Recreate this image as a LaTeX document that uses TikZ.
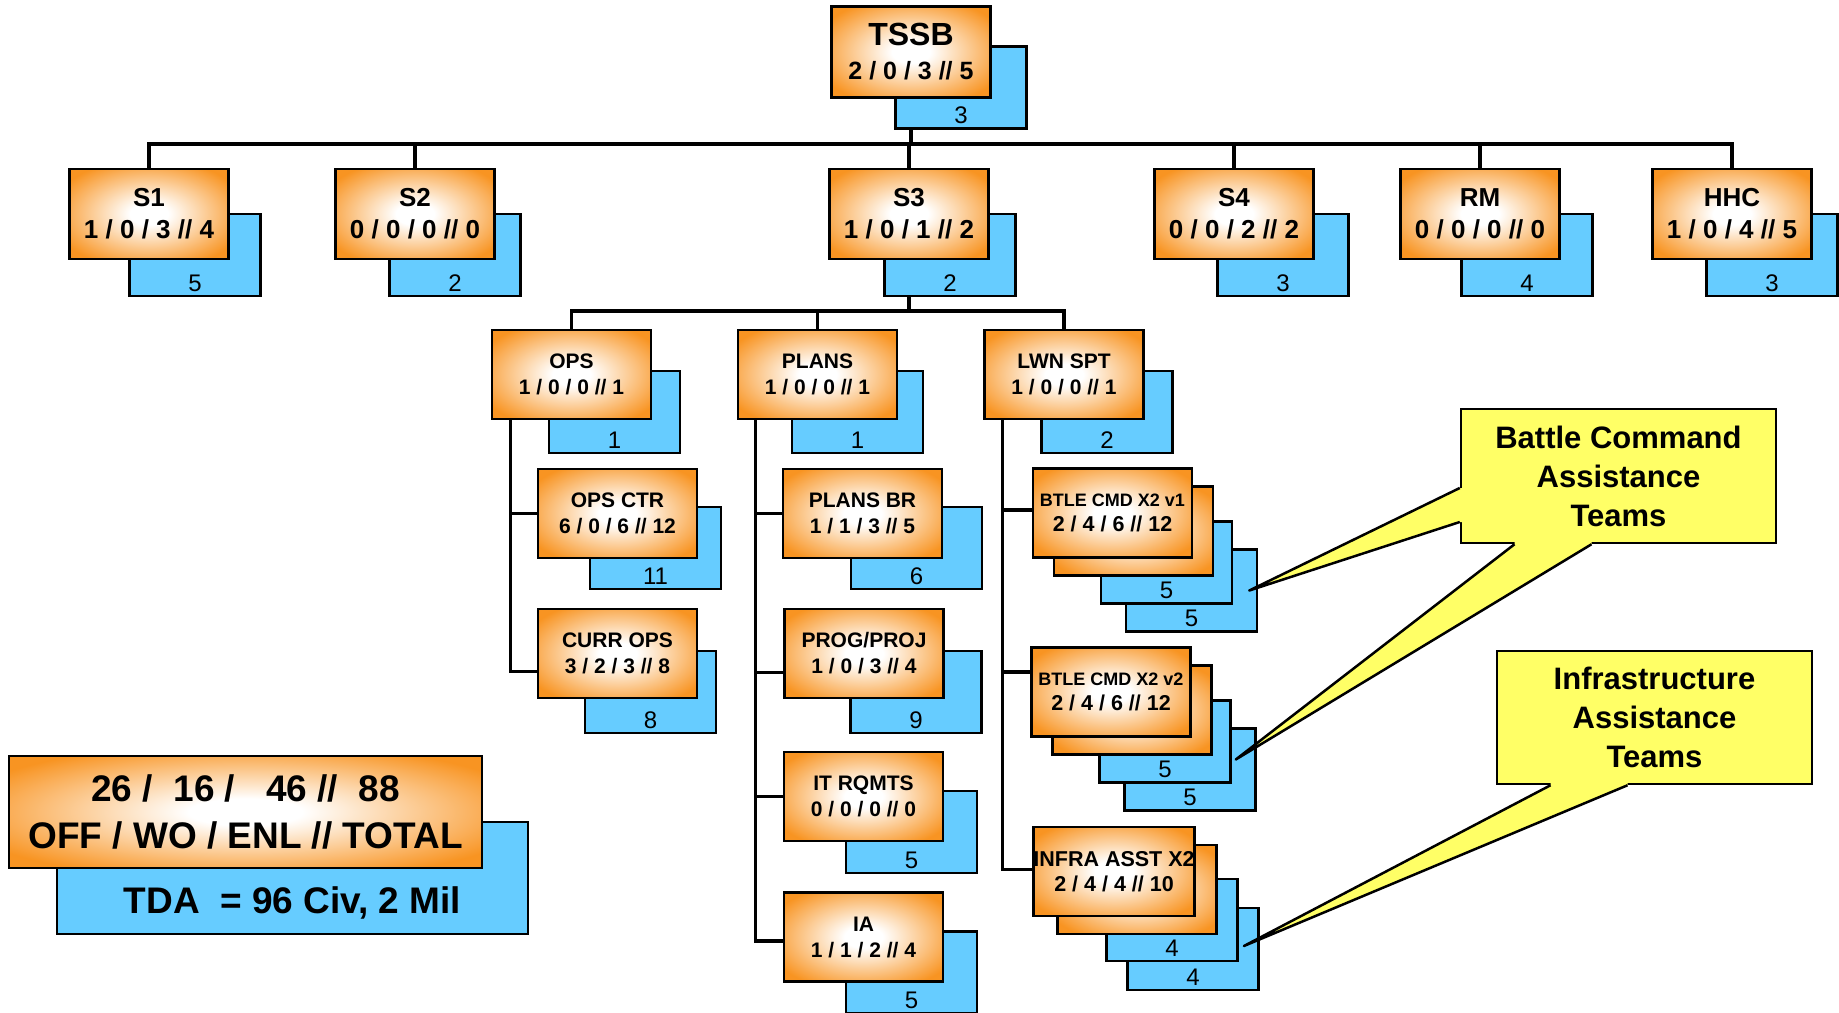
\documentclass[tikz,border=0pt]{standalone}
\usepackage{fontspec}
\setmainfont{Liberation Sans}
\usetikzlibrary{calc,backgrounds}
\definecolor{orng}{RGB}{248,148,34}
\definecolor{skyb}{RGB}{102,204,255}
\definecolor{yel}{RGB}{255,255,102}
\pgfdeclareradialshading{glow}{\pgfpointorigin}{color(0bp)=(white); color(6bp)=(white); color(16bp)=(orng!40!white); color(31bp)=(orng); color(50bp)=(orng)}
\tikzset{
  orgbox/.style={rectangle, draw=black, line width=2.5pt, shading=glow, minimum width=159pt, minimum height=90pt,
    inner xsep=0pt, align=center, font=\bfseries\fontsize{26}{32}\selectfont},
  subbox/.style={orgbox, minimum height=89pt, font=\bfseries\fontsize{21}{26}\selectfont},
  teambox/.style={orgbox, minimum height=89pt, font=\bfseries\fontsize{21.5}{25}\selectfont},
  bluebox/.style={rectangle, draw=black, line width=2.5pt, fill=skyb, minimum width=131pt, minimum height=82pt,
    anchor=south east, label={[anchor=base, yshift=6pt, font=\fontsize{24}{24}\selectfont]south:#1}},
  sumblue/.style={bluebox, minimum width=471pt, minimum height=112pt,
    label={[anchor=base, yshift=22pt, font=\bfseries\fontsize{37}{37}\selectfont]south:#1}},
  conn/.style={draw, line width=3.2pt},
  callout/.style={rectangle, draw=black, fill=yel, line width=2.5pt, minimum width=315pt, minimum height=134pt,
    align=center, font=\bfseries\fontsize{31}{39}\selectfont},
  tail/.style={draw=black, line width=2.5pt, line join=round},
}
\begin{document}
\begin{tikzpicture}[x=1pt, y=-1pt]
  \useasboundingbox (0,0) rectangle (1839,1012);

  % command and staff
  \node[orgbox, minimum height=91pt, font=\bfseries\fontsize{25}{34}\selectfont] (tssb) at (911,52)
    {{\fontsize{32}{32}\selectfont TSSB}\\2 / 0 / 3 // 5};
  \node[orgbox] (s1) at (149,214) {S1\\1 / 0 / 3 // 4};
  \node[orgbox] (s2) at (415,214) {S2\\0 / 0 / 0 // 0};
  \node[orgbox] (s3) at (909,214) {S3\\1 / 0 / 1 // 2};
  \node[orgbox] (s4) at (1234,214) {S4\\0 / 0 / 2 // 2};
  \node[orgbox] (rm) at (1480,214) {RM\\0 / 0 / 0 // 0};
  \node[orgbox] (hhc) at (1732,214) {HHC\\1 / 0 / 4 // 5};

  % S3 divisions
  \node[subbox] (ops) at (571.5,374.5) {OPS\\1 / 0 / 0 // 1};
  \node[subbox] (plans) at (817.5,374.5) {PLANS\\1 / 0 / 0 // 1};
  \node[subbox] (lwn) at (1064,374.5) {LWN SPT\\1 / 0 / 0 // 1};

  \node[subbox] (opsctr) at (617.5,513.5) {OPS CTR\\6 / 0 / 6 // 12};
  \node[subbox] (currops) at (617.5,653.5) {CURR OPS\\3 / 2 / 3 // 8};
  \node[subbox] (plansbr) at (862.5,513.5) {PLANS BR\\1 / 1 / 3 // 5};
  \node[subbox] (progproj) at (864,653.5) {PROG/PROJ\\1 / 0 / 3 // 4};
  \node[subbox] (itrqmts) at (863.5,796.5) {IT RQMTS\\0 / 0 / 0 // 0};
  \node[subbox] (ia) at (863.5,937) {IA\\1 / 1 / 2 // 4};

  \node[teambox] (btle1) at (1112.5,513) {{\fontsize{18}{18}\selectfont BTLE CMD X2 v1}\\2 / 4 / 6 // 12};
  \node[teambox] (btle2) at (1111,692) {{\fontsize{18}{18}\selectfont BTLE CMD X2 v2}\\2 / 4 / 6 // 12};
  \node[teambox] (infra) at (1114,871.5) {INFRA ASST X2\\2 / 4 / 4 // 10};

  % totals
  \node[orgbox, minimum width=473pt, minimum height=112pt, font=\bfseries\fontsize{37}{47}\selectfont] (total) at (245.5,812)
    {26 /~~16 /~~~46 //~~88\\OFF / WO / ENL // TOTAL};

  \begin{scope}[on background layer]
    \coordinate (topbus) at (tssb |- 0,144);
    \coordinate (s3bus) at (s3 |- 0,311);
    \path[conn] (tssb) -- (topbus);
    \foreach \n in {s1,s2,s3,s4,rm,hhc}
      \path[conn] (topbus) -| (\n.north);
    \path[conn] (s3) -- (s3bus);
    \foreach \n in {ops,plans,lwn}
      \path[conn] (s3bus) -| (\n.north);

    \path[conn] ([xshift=20pt]ops.south west) |- (opsctr.west);
    \path[conn] ([xshift=20pt]ops.south west) |- ([yshift=-18pt]currops.west);
    \path[conn] ([xshift=19pt]plans.south west) |- (plansbr.west);
    \path[conn] ([xshift=19pt]plans.south west) |- ([yshift=-19pt]progproj.west);
    \path[conn] ([xshift=19pt]plans.south west) |- (itrqmts.west);
    \path[conn] ([xshift=19pt]plans.south west) |- ([yshift=-4pt]ia.west);
    \path[conn] ([xshift=19pt]lwn.south west) |- ([yshift=3pt]btle1.west);
    \path[conn] ([xshift=19pt]lwn.south west) |- ([yshift=20pt]btle2.west);
    \path[conn] ([xshift=19pt]lwn.south west) |- ([yshift=2pt]infra.west);

    % civilian strength
    \node[bluebox=3] (tssbb) at ($(tssb.south east)+(36,31)$) {};
    \node[bluebox=5] (s1b) at ($(s1.south east)+(32,37)$) {};
    \node[bluebox=2] (s2b) at ($(s2.south east)+(26,37)$) {};
    \node[bluebox=2] (s3b) at ($(s3.south east)+(27,37)$) {};
    \node[bluebox=3] (s4b) at ($(s4.south east)+(35,37)$) {};
    \node[bluebox=4] (rmb) at ($(rm.south east)+(33,37)$) {};
    \node[bluebox=3] (hhcb) at ($(hhc.south east)+(26,37)$) {};

    \node[bluebox=1] (opsb) at ($(ops.south east)+(29,34)$) {};
    \node[bluebox=1] (plansb) at ($(plans.south east)+(26,34)$) {};
    \node[bluebox=2] (lwnb) at ($(lwn.south east)+(29,34)$) {};
    \node[bluebox=11] (opsctrb) at ($(opsctr.south east)+(24,31)$) {};
    \node[bluebox=8] (curropsb) at ($(currops.south east)+(19,35)$) {};
    \node[bluebox=6] (plansbrb) at ($(plansbr.south east)+(40,31)$) {};
    \node[bluebox=9] (progprojb) at ($(progproj.south east)+(38,35)$) {};
    \node[bluebox=5] (itrqmtsb) at ($(itrqmts.south east)+(34,32)$) {};
    \node[bluebox=5] (iab) at ($(ia.south east)+(34,32)$) {};

    \node[bluebox=5] (btle1b2) at ($(btle1.south east)+(65,74)$) {};
    \node[bluebox=5] (btle1b1) at ($(btle1.south east)+(40,46)$) {};
    \node[teambox, anchor=south east] (btle1o2) at ($(btle1.south east)+(21,18)$) {};
    \node[bluebox=5] (btle2b2) at ($(btle2.south east)+(65,74)$) {};
    \node[bluebox=5] (btle2b1) at ($(btle2.south east)+(40,46)$) {};
    \node[teambox, anchor=south east] (btle2o2) at ($(btle2.south east)+(21,18)$) {};
    \node[bluebox=4] (infrab2) at ($(infra.south east)+(64,74)$) {};
    \node[bluebox=4] (infrab1) at ($(infra.south east)+(43,45)$) {};
    \node[teambox, anchor=south east] (infrao2) at ($(infra.south east)+(22,18)$) {};

    \node[sumblue={TDA~~= 96 Civ, 2 Mil}] (totalb) at ($(total.south east)+(46,66)$) {};
  \end{scope}

  % callouts
  \node[callout] (bcat) at (1618.5,476) {Battle Command\\Assistance\\Teams};
  \node[callout, minimum height=133pt] (iat) at (1654.5,717.5) {Infrastructure\\Assistance\\Teams};

  \coordinate (btle1tip) at ($(btle1b2.east)+(-9,0)$);
  \coordinate (btle2tip) at ($(btle2b2.east)+(-21,-10)$);
  \coordinate (infratip) at ($(infrab2.east)+(-16,-3)$);

  \fill[yel] ([xshift=3pt,yshift=-12pt]bcat.west) -- ([yshift=-12pt]bcat.west) -- (btle1tip)
    -- ([yshift=-46pt]bcat.west) -- ([xshift=3pt,yshift=-46pt]bcat.west) -- cycle;
  \path[tail] ([yshift=-12pt]bcat.west) -- (btle1tip) -- ([yshift=-46pt]bcat.west);

  \fill[yel] ([xshift=-104pt,yshift=3pt]bcat.south) -- ([xshift=-104pt]bcat.south) -- (btle2tip)
    -- ([xshift=-27pt]bcat.south) -- ([xshift=-27pt,yshift=3pt]bcat.south) -- cycle;
  \path[tail] ([xshift=-104pt]bcat.south) -- (btle2tip) -- ([xshift=-27pt]bcat.south);

  \fill[yel] ([xshift=-104pt,yshift=3pt]iat.south) -- ([xshift=-104pt]iat.south) -- (infratip)
    -- ([xshift=-27pt]iat.south) -- ([xshift=-27pt,yshift=3pt]iat.south) -- cycle;
  \path[tail] ([xshift=-104pt]iat.south) -- (infratip) -- ([xshift=-27pt]iat.south);
\end{tikzpicture}
\end{document}
